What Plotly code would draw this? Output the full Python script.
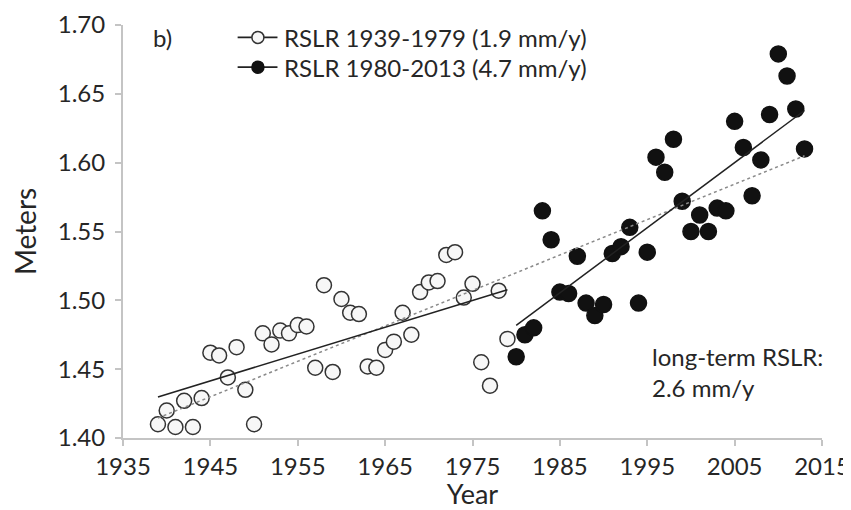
import plotly.graph_objects as go

# Data
years_early = list(range(1939, 1980))
rslr_early = [1.410, 1.420, 1.408, 1.427, 1.408, 1.429, 1.462, 1.460, 1.444, 1.466,
              1.435, 1.410, 1.476, 1.468, 1.478, 1.476, 1.482, 1.481, 1.451, 1.511,
              1.448, 1.501, 1.491, 1.490, 1.452, 1.451, 1.464, 1.470, 1.491, 1.475,
              1.506, 1.513, 1.514, 1.533, 1.535, 1.502, 1.512, 1.455, 1.438, 1.507,
              1.472]

years_late = list(range(1980, 2014))
rslr_late = [1.459, 1.475, 1.480, 1.565, 1.544, 1.506, 1.505, 1.532, 1.498, 1.489,
             1.497, 1.534, 1.539, 1.553, 1.498, 1.535, 1.604, 1.593, 1.617, 1.572,
             1.550, 1.562, 1.550, 1.567, 1.565, 1.630, 1.611, 1.576, 1.602, 1.635,
             1.679, 1.663, 1.639, 1.610]

# Trend line end points
trend_early_years = [1939, 1979]
trend_early_vals = [1.4298, 1.5077]
trend_late_years = [1980, 2013]
trend_late_vals = [1.4818, 1.6379]
trend_long_years = [1939, 2013]
trend_long_vals = [1.4145, 1.6050]

x_ticks = [1935, 1945, 1955, 1965, 1975, 1985, 1995, 2005, 2015]
y_ticks = [1.40, 1.45, 1.50, 1.55, 1.60, 1.65, 1.70]

legend_labels = ["RSLR 1939-1979 (1.9 mm/y)", "RSLR 1980-2013 (4.7 mm/y)"]

FONT = "Lato"
TXT = "#262626"
AX = "#c4c4c4"
OPEN_FILL = "#f7f7f7"
OPEN_LINE = "#333333"
DARK = "#111111"

fig = go.Figure()

fig.add_trace(go.Scatter(
    x=years_early, y=rslr_early, mode="markers", showlegend=False,
    marker=dict(size=15, color=OPEN_FILL, line=dict(color=OPEN_LINE, width=1.5)),
))
fig.add_trace(go.Scatter(
    x=years_late, y=rslr_late, mode="markers", showlegend=False,
    marker=dict(size=16, color=DARK, line=dict(color=DARK, width=1.5)),
))
fig.add_trace(go.Scatter(
    x=trend_long_years, y=trend_long_vals, mode="lines", showlegend=False,
    line=dict(color="#8a8a8a", width=1.5, dash="dot"),
))
fig.add_trace(go.Scatter(
    x=trend_early_years, y=trend_early_vals, mode="lines", showlegend=False,
    line=dict(color="#222222", width=1.5),
))
fig.add_trace(go.Scatter(
    x=trend_late_years, y=trend_late_vals, mode="lines", showlegend=False,
    line=dict(color="#222222", width=1.5),
))

# hand-built legend (symbol line + circle + label)
leg_rows_y = [0.970, 0.898]
leg_fill = [OPEN_FILL, DARK]
leg_edge = [OPEN_LINE, DARK]
shapes = []
annotations = []
for ry, fill, edge, label in zip(leg_rows_y, leg_fill, leg_edge, legend_labels):
    shapes.append(dict(type="line", xref="paper", yref="paper",
                       x0=0.164, x1=0.221, y0=ry, y1=ry,
                       line=dict(color="#222222", width=1.8)))
    shapes.append(dict(type="circle", xref="paper", yref="paper",
                       xsizemode="pixel", ysizemode="pixel",
                       xanchor=0.193, yanchor=ry,
                       x0=-6, x1=6, y0=-6, y1=6,
                       fillcolor=fill, line=dict(color=edge, width=1.5)))
    annotations.append(dict(text=label, x=0.227, y=ry, xref="paper", yref="paper",
                            xanchor="left", yanchor="middle", showarrow=False,
                            font=dict(size=24, color=TXT)))

annotations.append(dict(text="b)", x=0.057, y=0.970, xref="paper", yref="paper",
                        xanchor="center", yanchor="middle", showarrow=False,
                        font=dict(size=24, color=TXT)))
annotations.append(dict(text="long-term RSLR:<br>2.6 mm/y", x=0.754, y=0.161,
                        xref="paper", yref="paper", xanchor="left", yanchor="middle",
                        align="left", showarrow=False, font=dict(size=24, color=TXT)))

# The page body has an 8px margin, so the figure is sized to fit the window.
fig.update_layout(
    width=843, height=502,
    margin=dict(l=115, r=29, t=17, b=72, autoexpand=False),
    paper_bgcolor="white", plot_bgcolor="white",
    font=dict(family=FONT, size=24, color=TXT),
    showlegend=False,
    shapes=shapes,
    annotations=annotations,
)

fig.update_xaxes(
    range=[1935, 2015], tickvals=x_ticks, ticktext=[str(v) for v in x_ticks],
    showgrid=False, zeroline=False, showline=True, linecolor=AX, linewidth=2,
    ticks="outside", ticklen=6, tickcolor=AX, tickwidth=1.5,
    tickfont=dict(size=24, color=TXT), ticklabeloverflow="allow",
    title=dict(text="Year", font=dict(size=27, color=TXT), standoff=11),
)
fig.update_yaxes(
    range=[1.40, 1.70], tickvals=y_ticks, ticktext=[f"{v:.2f}" for v in y_ticks],
    showgrid=False, zeroline=False, showline=True, linecolor=AX, linewidth=2,
    ticks="outside", ticklen=6, tickcolor=AX, tickwidth=1.5,
    tickfont=dict(size=24, color=TXT), ticklabelstandoff=5,
    ticklabeloverflow="allow",
    title=dict(text="Meters", font=dict(size=28, color=TXT), standoff=22),
)

fig.write_html("out.html")
